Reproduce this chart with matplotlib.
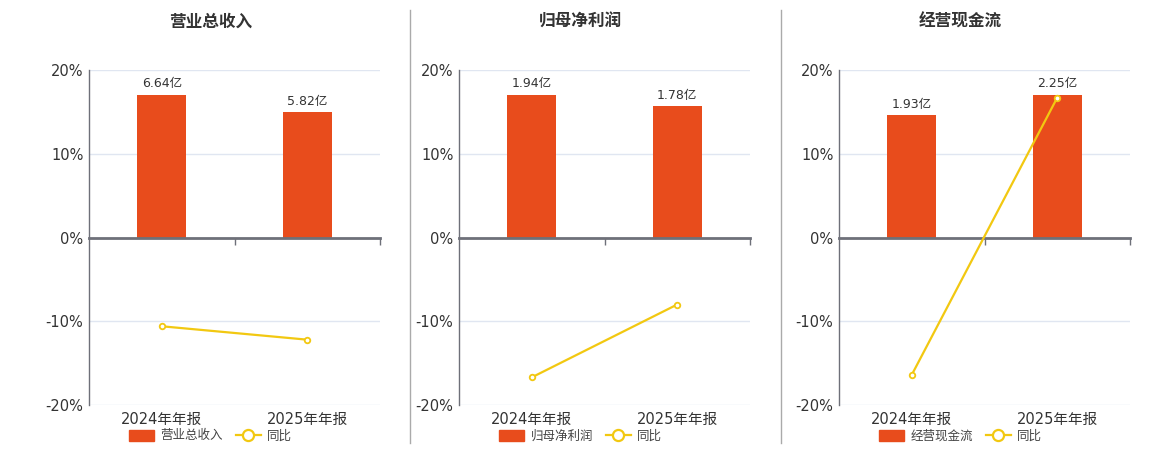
import matplotlib
matplotlib.use('Agg')
import matplotlib.pyplot as plt
from matplotlib.patches import Patch
from matplotlib.lines import Line2D

plt.rcParams['font.family'] = ['DejaVu Sans', 'Noto Sans CJK SC']

# ---- data ----
categories = ['2024年年报', '2025年年报']
titles = ['营业总收入', '归母净利润', '经营现金流']
bar_values = [[6.64, 5.82], [1.94, 1.78], [1.93, 2.25]]
bar_labels = [['6.64亿', '5.82亿'], ['1.94亿', '1.78亿'], ['1.93亿', '2.25亿']]
yoy_values = [[-10.6, -12.2], [-16.7, -8.0], [-16.4, 16.7]]
pct_ticks = [-20, -10, 0, 10, 20]

BAR_C = '#E84C1C'
LINE_C = '#F2C811'
AXIS_C = '#6E7079'
GRID_C = '#E0E6F1'
TEXT_C = '#333333'

W, H = 1160, 450
fig = plt.figure(figsize=(W / 100, H / 100), dpi=100)

ax_left_px = [89, 459, 839]
ax_w_px = 291

for i in range(3):
    left = ax_left_px[i] / W
    rect = [left, 1 - 405 / H, ax_w_px / W, (405 - 70) / H]
    ax = fig.add_axes(rect)
    axb = ax.twinx()
    axb.set_zorder(ax.get_zorder() - 1)
    ax.patch.set_visible(False)

    ax.set_xlim(-0.5, 1.5)
    ax.set_ylim(-20, 20)
    m = max(bar_values[i])
    axb.set_ylim(-m * 1.172, m * 1.172)

    # grid behind bars (drawn on the lower axes, in percent coords)
    for t in pct_ticks:
        if t != 0:
            axb.plot([0, 1], [t, t], transform=ax.get_yaxis_transform(),
                     color=GRID_C, lw=1, zorder=0)

    x = list(range(len(categories)))
    bars = axb.bar(x, bar_values[i], width=0.34, color=BAR_C, zorder=2)
    axb.bar_label(bars, labels=bar_labels[i], padding=3, fontsize=9, color=TEXT_C)

    ax.plot(x, yoy_values[i], color=LINE_C, lw=1.6, marker='o', ms=4,
            mfc='white', mec=LINE_C, mew=1.3, zorder=5)

    # percent axis on the left
    ax.set_yticks(pct_ticks)
    ax.set_yticklabels([f'{t}%' for t in pct_ticks])
    ax.tick_params(axis='y', length=0, pad=4, labelsize=10.5, labelcolor=TEXT_C)
    ax.set_xticks(x)
    ax.set_xticklabels(categories)
    ax.tick_params(axis='x', which='both', length=0, pad=5, labelsize=10.5,
                   labelcolor=TEXT_C)
    for s in ['top', 'right', 'bottom']:
        ax.spines[s].set_visible(False)
    ax.spines['left'].set_color(AXIS_C)
    ax.spines['left'].set_linewidth(1)

    # zero axis line with boundary ticks
    axb.xaxis.set_visible(True)
    for s in ['top', 'right', 'left']:
        axb.spines[s].set_visible(False)
    axb.spines['bottom'].set_position(('data', 0))
    axb.spines['bottom'].set_color(AXIS_C)
    axb.spines['bottom'].set_linewidth(2)
    axb.set_yticks([])
    axb.set_xticks([0.5, 1.5], minor=True)
    axb.tick_params(axis='x', which='major', length=0, labelbottom=False)
    axb.tick_params(axis='x', which='minor', length=5, width=1, color=AXIS_C,
                    direction='out', labelbottom=False)

    cx = (ax_left_px[i] + ax_w_px / 2 - 24) / W
    fig.text(cx, 1 - 22 / H, titles[i], ha='center', va='center',
             fontsize=12, fontweight='bold', color=TEXT_C)

    handles = [Patch(facecolor=BAR_C, edgecolor=BAR_C),
               Line2D([0], [0], color=LINE_C, lw=1.6, marker='o', ms=8,
                      mfc='white', mec=LINE_C, mew=1.6)]
    fig.legend(handles, [titles[i], '同比'], loc='center',
               bbox_to_anchor=(cx, 1 - 436 / H), ncol=2, frameon=False,
               fontsize=9, handlelength=2.0, handleheight=1.0,
               handletextpad=0.5, columnspacing=1.0, labelcolor='#444444')

# separators between panels
for xs in [410, 781]:
    fig.add_artist(Line2D([xs / W, xs / W], [1 - 10 / H, 1 - 443 / H],
                          color='#AAAAAA', lw=1))

fig.savefig('out.png', dpi=100, facecolor='white')
